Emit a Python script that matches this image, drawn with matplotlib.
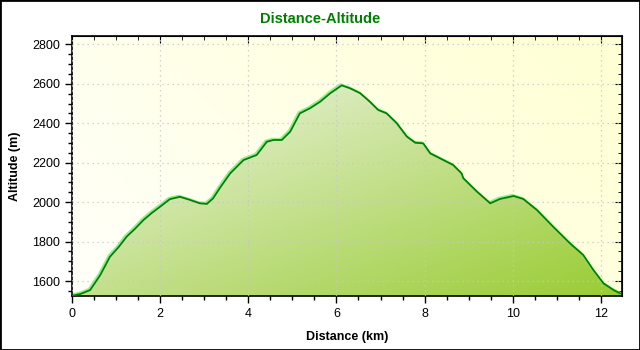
import numpy as np
import matplotlib
matplotlib.use("Agg")
import matplotlib.pyplot as plt
from matplotlib.ticker import MultipleLocator
from matplotlib.patches import Rectangle

plt.rcParams['font.family'] = ['Liberation Sans', 'DejaVu Sans']

# elevation profile: distance (km) and altitude (m)
distance = [0.0, 0.2, 0.41, 0.64, 0.86, 1.05, 1.24, 1.43, 1.62, 1.81, 2.0, 2.22, 2.45,
            2.68, 2.9, 3.06, 3.2, 3.35, 3.51, 3.59, 3.89, 4.19, 4.42, 4.57, 4.76, 4.95,
            5.17, 5.4, 5.63, 5.86, 6.12, 6.31, 6.54, 6.76, 6.95, 7.14, 7.37, 7.6, 7.79,
            7.97, 8.13, 8.43, 8.65, 8.84, 8.88, 9.19, 9.49, 9.71, 10.02, 10.24, 10.55,
            10.92, 11.3, 11.6, 11.83, 12.06, 12.29, 12.44]
altitude = [1525, 1535, 1554, 1630, 1723, 1770, 1825, 1865, 1909, 1945, 1977, 2015, 2027,
            2011, 1994, 1991, 2019, 2070, 2121, 2146, 2213, 2239, 2306, 2315, 2315, 2357,
            2450, 2476, 2509, 2552, 2592, 2577, 2552, 2509, 2467, 2450, 2400, 2332, 2301,
            2298, 2247, 2213, 2188, 2146, 2121, 2053, 1994, 2016, 2031, 2016, 1960,
            1875, 1791, 1732, 1656, 1588, 1554, 1537]

x_min, x_max = 0, 12.48
y_min, y_max = 1524, 2842

fig = plt.figure(figsize=(6.4, 3.5), dpi=100)
fig.patches.append(Rectangle((0, 0), 1, 1, transform=fig.transFigure,
                             fill=False, edgecolor='black', linewidth=2))
ax = fig.add_axes([0.1125, 0.1543, 0.8594, 0.7427])

# gradients: gx runs left->right, gy runs top->bottom
gx, gy = np.meshgrid(np.linspace(0, 1, 200), np.linspace(0, 1, 200))

# plot background: whitish at lower left, pale yellow towards the right
tb = np.clip(0.75 * gx + 0.35 * (1 - gy), 0, 1)
bg0 = np.array([1.0, 1.0, 0.98])
bg1 = np.array([1.0, 1.0, 0.84])
bg = bg0 + (bg1 - bg0) * tb[..., None]
ax.imshow(bg, extent=(x_min, x_max, y_min, y_max), aspect='auto', zorder=0)

# area under the profile: pale at top left, yellow-green at bottom right
tf = (gx + gy) / 2
fill0 = np.array([0.94, 0.96, 0.91])
fill1 = np.array([0.60, 0.80, 0.20])
fg = fill0 + (fill1 - fill0) * tf[..., None]
img = ax.imshow(fg, extent=(x_min, x_max, y_min, max(altitude)), aspect='auto', zorder=1)
poly = ax.fill_between(distance, altitude, y_min, color='none', zorder=1)
img.set_clip_path(poly.get_paths()[0], transform=ax.transData)

ax.plot(np.array(distance) - 0.03, np.array(altitude) + 6, color='#90ee90', lw=1.4, zorder=2)
ax.plot(distance, altitude, color='#008000', lw=1.3, zorder=3)

ax.set_xlim(x_min, x_max)
ax.set_ylim(y_min, y_max)
ax.xaxis.set_major_locator(MultipleLocator(2))
ax.xaxis.set_minor_locator(MultipleLocator(0.5))
ax.yaxis.set_major_locator(MultipleLocator(200))
ax.yaxis.set_minor_locator(MultipleLocator(50))
ax.grid(True, which='major', color='#c8c8c8', linestyle=(0, (1, 3)), linewidth=0.9, zorder=0.5)
ax.set_axisbelow(False)

ax.tick_params(which='both', direction='out', top=False, right=False,
               labelsize=9, colors='black')
ax.tick_params(which='major', length=5, width=1)
ax.tick_params(which='minor', length=3, width=1)
sec_x = ax.secondary_xaxis('top')
sec_x.xaxis.set_major_locator(MultipleLocator(2))
sec_x.xaxis.set_minor_locator(MultipleLocator(0.5))
sec_x.tick_params(which='both', direction='in', labeltop=False)
sec_x.tick_params(which='major', length=5)
sec_x.tick_params(which='minor', length=3)
sec_y = ax.secondary_yaxis('right')
sec_y.yaxis.set_major_locator(MultipleLocator(200))
sec_y.yaxis.set_minor_locator(MultipleLocator(50))
sec_y.tick_params(which='both', direction='in', labelright=False)
sec_y.tick_params(which='major', length=5)
sec_y.tick_params(which='minor', length=3)
for s in ax.spines.values():
    s.set_linewidth(1.2)

ax.set_xlabel('Distance (km)', fontsize=9, fontweight='bold', labelpad=8)
ax.set_ylabel('Altitude (m)', fontsize=9, fontweight='bold', labelpad=8)
fig.text(0.5, 0.947, 'Distance-Altitude', ha='center', va='center',
         fontsize=10.5, fontweight='bold', color='#008000')

fig.savefig('out.png', dpi=100)
